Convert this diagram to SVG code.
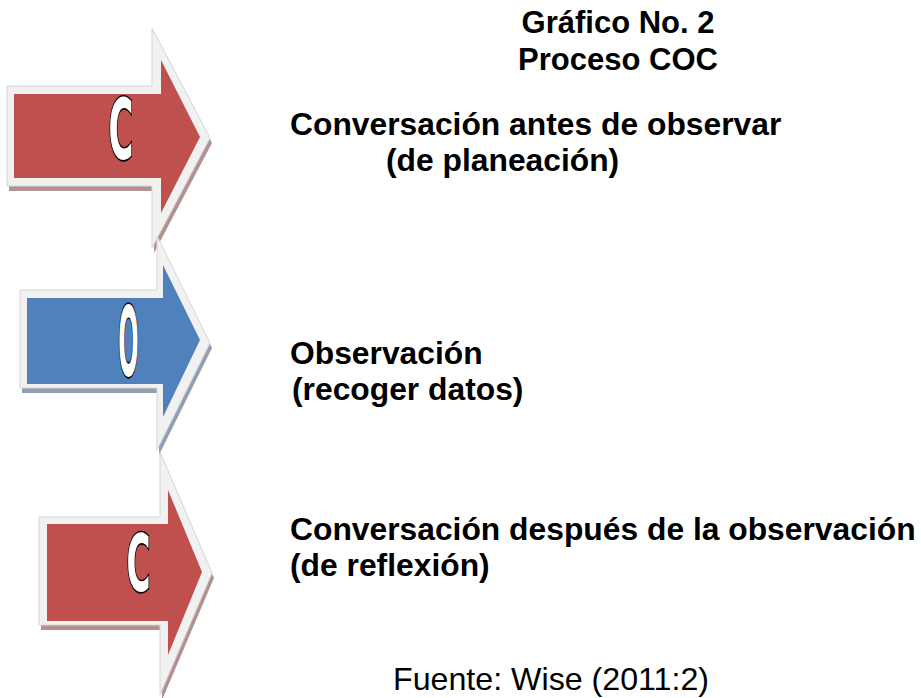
<svg xmlns="http://www.w3.org/2000/svg" width="921" height="698" viewBox="0 0 921 698">
<style>
.rim{fill:#F1F1F1;stroke:#D6D6D6;stroke-width:1}
.red{fill:#C0504D}
.blue{fill:#4F81BD}
.shr{fill:#B39190}
.shb{fill:#929FB2}
.letter{font-family:"DejaVu Sans",sans-serif;font-weight:bold;font-size:40px;fill:#FFFFFF;stroke:#000000;stroke-width:2.5;paint-order:stroke;text-anchor:middle;vector-effect:non-scaling-stroke}
.ttl{font-family:"Liberation Sans",Arial,sans-serif;font-weight:bold;font-size:31px;fill:#000000}
.lbl{font-family:"Liberation Sans",Arial,sans-serif;font-weight:bold;font-size:31.8px;fill:#000000}
.src{font-family:"Liberation Sans",Arial,sans-serif;font-size:32.2px;fill:#000000}
</style>
<rect width="921" height="698" fill="#FFFFFF"/>
<g id="title">
<text class="ttl" x="618" y="33" text-anchor="middle">Gráfico No. 2</text>
<text class="ttl" x="618" y="70" text-anchor="middle">Proceso COC</text>
</g>
<g id="connectors"></g>
<g id="node-c1">
<polygon class="shr" points="9,91 154,91 154,33 212,143 154,253 154,191 9,191"/>
<polygon class="rim" points="7,86 152,86 152,28 210,138 152,248 152,186 7,186"/>
<polygon class="red" points="14,94 161,94 161,60 200,137 161,213 161,178 14,178"/>
<text class="letter" transform="translate(121,159) scale(0.85,2.1)">C</text>
<text class="lbl" x="290" y="135">Conversación antes de observar</text>
<text class="lbl" x="386" y="171">(de planeación)</text>
</g>
<g id="node-o">
<polygon class="shb" points="22,295 159,295 159,241 212,348 159,455 159,393 22,393"/>
<polygon class="rim" points="20,290 157,290 157,236 210,343 157,450 157,388 20,388"/>
<polygon class="blue" points="27,298 163,298 163,265 200,340 163,417 163,384 27,384"/>
<text class="letter" transform="translate(128.5,376) scale(0.6,2.4)">O</text>
<text class="lbl" x="290" y="364">Observación</text>
<text class="lbl" x="292" y="400">(recoger datos)</text>
</g>
<g id="node-c2">
<polygon class="shr" points="41,522 162,522 162,457 214,578 162,700 162,630 41,630"/>
<polygon class="rim" points="39,517 160,517 160,452 212,573 160,695 160,625 39,625"/>
<polygon class="red" points="47,524 168,524 168,490 202,572 168,655 168,621 47,621"/>
<text class="letter" transform="translate(138.5,591) scale(0.82,1.95)">C</text>
<text class="lbl" x="290" y="540">Conversación después de la observación</text>
<text class="lbl" x="290" y="576">(de reflexión)</text>
</g>
<g id="source">
<text class="src" x="393" y="690">Fuente: Wise (2011:2)</text>
</g>
</svg>
